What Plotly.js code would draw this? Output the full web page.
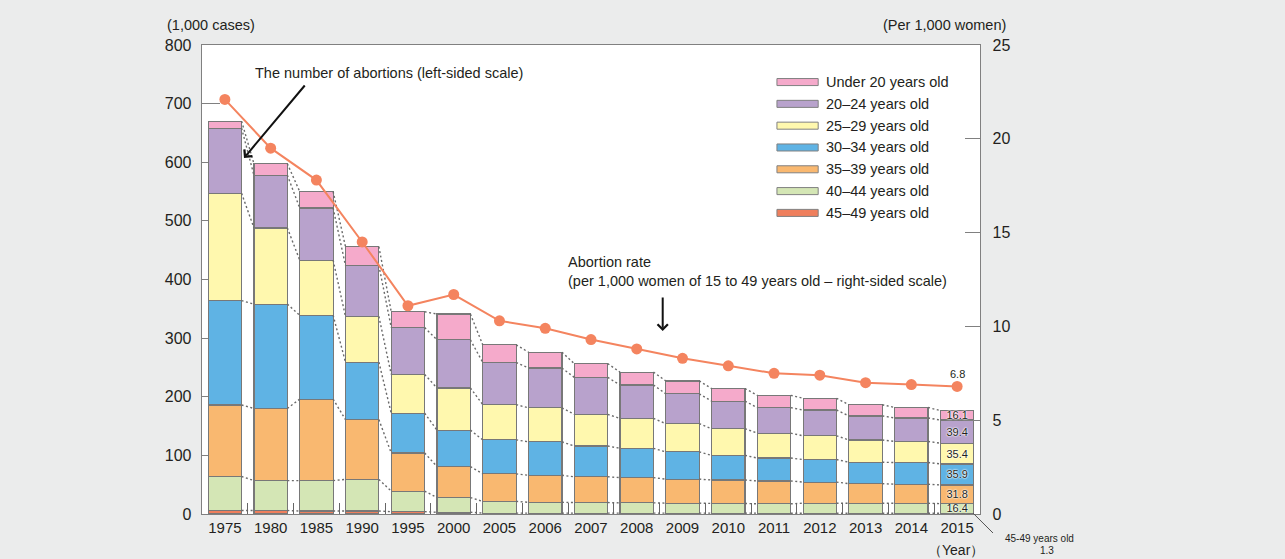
<!DOCTYPE html>
<html>
<head>
<meta charset="utf-8">
<script src="https://cdn.plot.ly/plotly-3.0.1.min.js"></script>
<style>html,body{margin:0;padding:0;background:#ebecec;}#chart{width:1285px;height:559px;}</style>
</head>
<body>
<div id="chart"></div>
<script>
// ---- data (thousands of cases; rate per 1,000 women) ----
const years = ['1975','1980','1985','1990','1995','2000','2005','2006','2007','2008','2009','2010','2011','2012','2013','2014','2015'];
const under20  = [12, 19.5, 28, 32, 27, 44, 30, 27, 23.5, 22, 22, 21.5, 21, 20, 19, 18, 16.1];
const age20_24 = [111, 90, 89, 87, 80, 82, 72, 68, 63, 57, 51, 47, 43.5, 44, 41, 40, 39.4];
const age25_29 = [183, 130, 94, 78, 66, 72, 60, 58, 54, 51, 48, 45.5, 42.5, 40.5, 38, 36, 35.4];
const age30_34 = [178, 178, 143, 98, 68, 62, 58, 57, 52.5, 50, 46.5, 42, 39, 38.5, 36.5, 37, 35.9];
const age35_39 = [122, 123, 139, 102, 65, 53, 47, 46, 44, 43, 41, 40, 39, 36, 33.5, 32.5, 31.8];
const age40_44 = [58, 51, 52, 54, 35, 25, 20, 18.5, 18, 17.5, 17, 16.5, 16, 17, 17, 17, 16.4];
const age45_49 = [6, 6, 5, 5, 4, 3, 1.5, 1.5, 1.5, 1.5, 1.5, 1.5, 1.4, 1.4, 1.3, 1.3, 1.3];
const rate     = [22.1, 19.5, 17.8, 14.5, 11.1, 11.7, 10.3, 9.9, 9.3, 8.8, 8.3, 7.9, 7.5, 7.4, 7.0, 6.9, 6.8];

const seriesNames = ['Under 20 years old','20\u201324 years old','25\u201329 years old','30\u201334 years old','35\u201339 years old','40\u201344 years old','45\u201349 years old'];
const seriesData  = [under20, age20_24, age25_29, age30_34, age35_39, age40_44, age45_49];
const seriesColors = ['#f5aacb','#b8a2cc','#fff8ae','#5fb3e4','#f9b870','#d4e6b5','#ef7f5d'];

const FONT = 'Liberation Sans, Arial, sans-serif';
const TXT = '#231f20';
const xs = years.map((_, i) => i);
const last = years.length - 1;
const halfW = 0.365;

const traces = [];
// stacked bars, bottom (45-49) first
for (let s = seriesData.length - 1; s >= 0; s--) {
  const d = seriesData[s];
  traces.push({
    type: 'bar', x: xs, y: d, name: seriesNames[s], showlegend: false,
    width: halfW * 2,
    marker: {color: seriesColors[s], line: {color: '#787878', width: 1.2}},
    text: s === 6 ? d.map(() => '') : d.map((v, i) => i === last ? v.toFixed(1) : ''),
    textposition: 'inside', insidetextanchor: 'middle', constraintext: 'none', textangle: 0,
    textfont: {family: FONT, size: 11, color: TXT, shadow: '0 0 2px #fff, 0 0 2px #fff, 0 0 1px #fff'},
    hoverinfo: 'skip', cliponaxis: false
  });
}
// dotted connectors between adjacent bars at every cumulative level
const cum = [];
let running = xs.map(() => 0);
for (let s = seriesData.length - 1; s >= 0; s--) {
  running = running.map((v, i) => v + seriesData[s][i]);
  cum.push(running.slice());
}
cum.forEach(level => {
  const cx = [], cy = [];
  for (let i = 0; i < last; i++) {
    cx.push(xs[i] + halfW, xs[i + 1] - halfW, null);
    cy.push(level[i], level[i + 1], null);
  }
  traces.push({type: 'scatter', mode: 'lines', x: cx, y: cy, showlegend: false, hoverinfo: 'skip',
    line: {color: '#6a6a6a', width: 1.4, dash: '2px,2.5px'}, connectgaps: false});
});
// rate line
traces.push({type: 'scatter', mode: 'lines+markers', x: xs, y: rate, yaxis: 'y2', showlegend: false,
  line: {color: '#f4845f', width: 2}, marker: {color: '#f4845f', size: 11}, hoverinfo: 'skip'});

// manual legend
const shapes = [];
const annotations = [];
const legTop = 0.921, legStep = 0.0465;
seriesNames.forEach((n, k) => {
  const yc = legTop - k * legStep;
  shapes.push({type: 'rect', xref: 'paper', yref: 'paper', x0: 0.739, x1: 0.792, y0: yc - 0.0075, y1: yc + 0.0075,
    fillcolor: seriesColors[k], line: {color: '#808080', width: 1}});
  annotations.push({xref: 'paper', yref: 'paper', x: 0.8, y: yc, xanchor: 'left', yanchor: 'middle',
    text: n, showarrow: false, font: {family: FONT, size: 14.5, color: TXT}});
});
// leader line for 45-49 label
shapes.push({type: 'line', xref: 'paper', yref: 'paper', x0: 0.991, y0: 0.002, x1: 1.0167, y1: -0.0405,
  line: {color: '#555', width: 1}});

annotations.push(
  {xref: 'paper', yref: 'paper', x: -0.0476, y: 1.0426, xanchor: 'left', yanchor: 'middle', showarrow: false,
   text: '(1,000 cases)', font: {family: FONT, size: 14.5, color: TXT}},
  {xref: 'paper', yref: 'paper', x: 1.036, y: 1.0426, xanchor: 'right', yanchor: 'middle', showarrow: false,
   text: '(Per 1,000 women)', font: {family: FONT, size: 14.5, color: TXT}},
  {xref: 'paper', yref: 'paper', x: 0.0656, y: 0.940, xanchor: 'left', yanchor: 'middle', showarrow: false,
   text: 'The number of abortions (left-sided scale)', font: {family: FONT, size: 14.5, color: TXT}},
  {xref: 'paper', yref: 'paper', x: (244 - 202) / 778, y: (514 - 158) / 469, ax: 62, ay: -74, axref: 'pixel', ayref: 'pixel',
   showarrow: true, arrowhead: 4, arrowsize: 1, arrowwidth: 2, arrowcolor: '#111', text: ''},
  {xref: 'paper', yref: 'paper', x: 0.468, y: 0.518, xanchor: 'left', yanchor: 'middle', align: 'left', showarrow: false,
   text: 'Abortion rate<br>(per 1,000 women of 15 to 49 years old \u2013 right-sided scale)', font: {family: FONT, size: 14.5, color: TXT}},
  {xref: 'paper', yref: 'paper', x: (662.7 - 202) / 778, y: (514 - 331) / 469, ax: 0, ay: -35, axref: 'pixel', ayref: 'pixel',
   showarrow: true, arrowhead: 4, arrowsize: 1, arrowwidth: 2, arrowcolor: '#111', text: ''},
  {xref: 'x', yref: 'y2', x: xs[last], y: rate[last], yshift: 12, showarrow: false, text: rate[last].toFixed(1),
   font: {family: FONT, size: 11, color: TXT}},
  {xref: 'paper', yref: 'paper', x: (1039 - 202) / 778, y: (514 - 538) / 469, showarrow: false, xanchor: 'center', yanchor: 'middle',
   text: '45-49 years old', font: {family: FONT, size: 10, color: TXT}},
  {xref: 'paper', yref: 'paper', x: (1047 - 202) / 778, y: (514 - 550) / 469, showarrow: false, xanchor: 'center', yanchor: 'middle',
   text: age45_49[last].toFixed(1), font: {family: FONT, size: 10, color: TXT}},
  {xref: 'paper', yref: 'paper', x: (955.5 - 202) / 778, y: (514 - 550) / 469, showarrow: false, xanchor: 'center', yanchor: 'middle',
   text: '\uFF08Year\uFF09', font: {family: FONT, size: 14, color: TXT}}
);

const layout = {
  width: 1285, height: 559,
  margin: {l: 202, r: 305, t: 45, b: 45, pad: 0},
  paper_bgcolor: '#ebecec', plot_bgcolor: '#ffffff',
  barmode: 'stack', bargap: 0.27,
  showlegend: false,
  font: {family: FONT, color: TXT},
  xaxis: {
    range: [-0.5, 16.5], tickmode: 'array', tickvals: xs, ticktext: years, ticks: '',
    tickfont: {family: FONT, size: 15, color: TXT},
    showline: true, linecolor: '#808080', linewidth: 1.3, mirror: true,
    showgrid: false, zeroline: false, fixedrange: true,
    minor: {tickmode: 'array', tickvals: xs.slice(1).map(i => i - 0.5), ticks: 'inside', ticklen: 11, tickcolor: '#666', tickwidth: 1, showgrid: false}
  },
  yaxis: {
    range: [0, 800], tickmode: 'linear', tick0: 0, dtick: 100, ticks: 'inside', ticklen: 18, tickcolor: '#808080',
    tickfont: {family: FONT, size: 16, color: TXT}, ticklabelstandoff: 6,
    showline: true, linecolor: '#808080', linewidth: 1.3, showgrid: false, zeroline: false, layer: 'below traces'
  },
  yaxis2: {
    overlaying: 'y', side: 'right', range: [0, 25], tickmode: 'linear', tick0: 0, dtick: 5,
    ticks: 'inside', ticklen: 15, tickcolor: '#808080',
    tickfont: {family: FONT, size: 16, color: TXT}, ticklabelstandoff: 8,
    showline: true, linecolor: '#808080', linewidth: 1.3, showgrid: false, zeroline: false
  },
  shapes: shapes,
  annotations: annotations
};

Plotly.newPlot('chart', traces, layout, {displayModeBar: false, staticPlot: true});
</script>
</body>
</html>
